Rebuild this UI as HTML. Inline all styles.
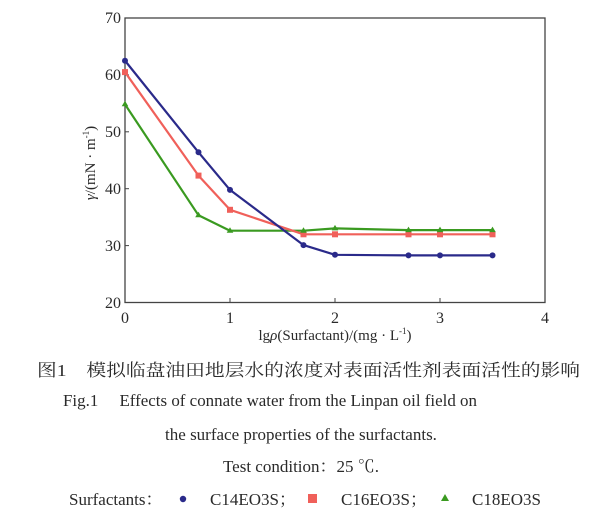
<!DOCTYPE html>
<html><head><meta charset="utf-8"><style>
html,body{margin:0;padding:0;background:#fff;}
svg{display:block;}
text{font-family:"Liberation Serif","Noto Serif CJK SC",serif;fill:#2a2a2a;}
</style></head><body>
<svg width="603" height="526" viewBox="0 0 603 526" xmlns="http://www.w3.org/2000/svg">
<rect x="125" y="18" width="420" height="284.5" fill="none" stroke="#444" stroke-width="1.3"/>
<g stroke="#444" stroke-width="1">
<line x1="230" y1="302.5" x2="230" y2="298"/><line x1="335" y1="302.5" x2="335" y2="298"/><line x1="440" y1="302.5" x2="440" y2="298"/>
<line x1="125" y1="245.6" x2="129" y2="245.6"/><line x1="125" y1="188.7" x2="129" y2="188.7"/><line x1="125" y1="131.8" x2="129" y2="131.8"/><line x1="125" y1="74.9" x2="129" y2="74.9"/>
</g>
<g font-size="16" text-anchor="end">
<text x="121" y="308">20</text><text x="121" y="251">30</text><text x="121" y="194">40</text><text x="121" y="137">50</text><text x="121" y="80">60</text><text x="121" y="23">70</text>
</g>
<g font-size="16" text-anchor="middle">
<text x="125" y="323">0</text><text x="230" y="323">1</text><text x="335" y="323">2</text><text x="440" y="323">3</text><text x="545" y="323">4</text>
</g>
<text x="335" y="340" font-size="15" text-anchor="middle">lg<tspan font-style="italic">ρ</tspan>(Surfactant)/(mg · L<tspan font-size="9" dy="-6">-1</tspan><tspan dy="6">)</tspan></text>
<text transform="translate(95,163) rotate(-90)" font-size="15" text-anchor="middle"><tspan font-style="italic">γ</tspan>/(mN · m<tspan font-size="9" dy="-6">-1</tspan><tspan dy="6">)</tspan></text>
<g fill="none" stroke-width="2.2" stroke-linejoin="round">
<polyline stroke="#3a9a20" points="125,104.3 198.5,215.3 230,230.7 303.5,230.7 335,228.4 408.5,230.1 440,230.1 492.5,230.1"/>
<polyline stroke="#f0605a" points="125,72.1 198.5,175.6 230,209.8 303.5,234.3 335,234.3 408.5,234.3 440,234.3 492.5,234.3"/>
<polyline stroke="#2a2a8a" points="125,60.7 198.5,152.3 230,189.9 303.5,245.1 335,254.8 408.5,255.4 440,255.4 492.5,255.4"/>
</g>
<g fill="#2a2a8a">
<circle cx="125" cy="60.7" r="3"/><circle cx="198.5" cy="152.3" r="3"/><circle cx="230" cy="189.9" r="3"/><circle cx="303.5" cy="245.1" r="3"/><circle cx="335" cy="254.8" r="3"/><circle cx="408.5" cy="255.4" r="3"/><circle cx="440" cy="255.4" r="3"/><circle cx="492.5" cy="255.4" r="3"/>
</g>
<g fill="#f0605a">
<rect x="122" y="69.1" width="6" height="6"/><rect x="195.5" y="172.6" width="6" height="6"/><rect x="227" y="206.8" width="6" height="6"/><rect x="300.5" y="231.3" width="6" height="6"/><rect x="332" y="231.3" width="6" height="6"/><rect x="405.5" y="231.3" width="6" height="6"/><rect x="437" y="231.3" width="6" height="6"/><rect x="489.5" y="231.3" width="6" height="6"/>
</g>
<g fill="#3a9a20">
<path d="M125,100.8l3.3,5.5h-6.6z"/><path d="M198.5,211.8l3.3,5.5h-6.6z"/><path d="M230,227.2l3.3,5.5h-6.6z"/><path d="M303.5,227.2l3.3,5.5h-6.6z"/><path d="M335,224.9l3.3,5.5h-6.6z"/><path d="M408.5,226.6l3.3,5.5h-6.6z"/><path d="M440,226.6l3.3,5.5h-6.6z"/><path d="M492.5,226.6l3.3,5.5h-6.6z"/>
</g>
<text x="37" y="376" font-size="17" textLength="543" lengthAdjust="spacingAndGlyphs">图1　模拟临盘油田地层水的浓度对表面活性剂表面活性的影响</text>
<text x="63" y="406" font-size="17" textLength="414" lengthAdjust="spacingAndGlyphs">Fig.1　 Effects of connate water from the Linpan oil field on</text>
<text x="301" y="440" font-size="17" text-anchor="middle">the surface properties of the surfactants.</text>
<text x="301" y="472" font-size="17" text-anchor="middle">Test condition：25 ℃.</text>
<text x="69" y="505" font-size="17">Surfactants：</text>
<circle cx="183" cy="499" r="3.2" fill="#2a2a8a"/>
<text x="210" y="505" font-size="17">C14EO3S；</text>
<rect x="308" y="494" width="9" height="9" fill="#f0605a"/>
<text x="341" y="505" font-size="17">C16EO3S；</text>
<path d="M445,494l4,7h-8z" fill="#3a9a20"/>
<text x="472" y="505" font-size="17">C18EO3S</text>
</svg>
</body></html>
